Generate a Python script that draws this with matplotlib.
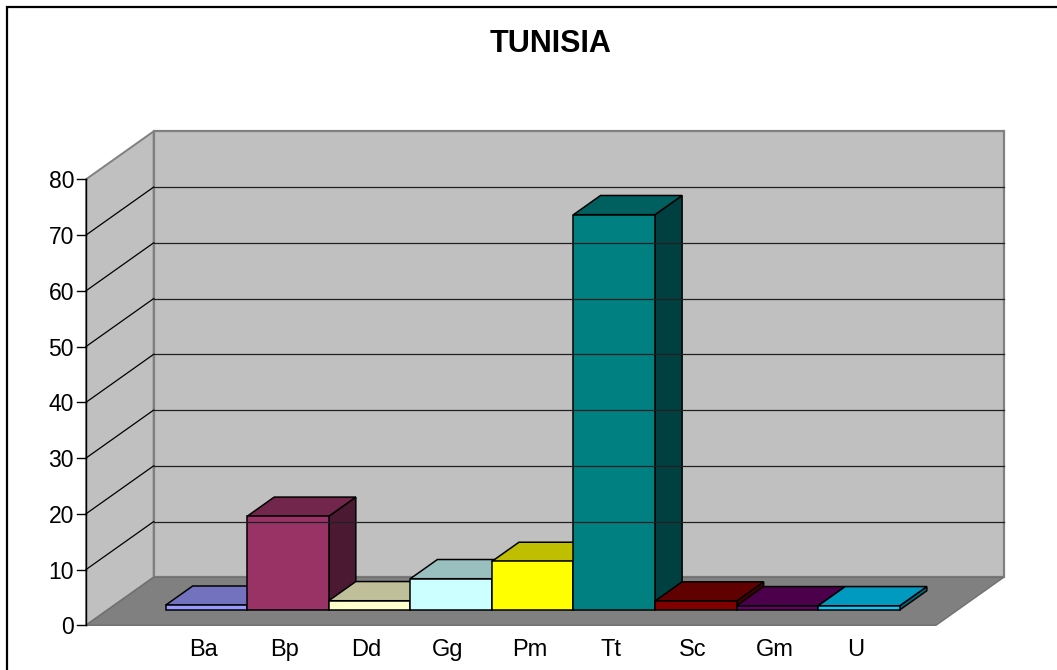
import numpy as np
import matplotlib.pyplot as plt
from matplotlib.patches import Polygon

plt.rcParams['font.family'] = ['Liberation Sans', 'DejaVu Sans']

# data
categories = ["Ba", "Bp", "Dd", "Gg", "Pm", "Tt", "Sc", "Gm", "U"]
values = [0.85, 16.8, 1.65, 5.6, 8.7, 70.9, 1.6, 0.75, 0.75]
front_colors = ["#9999ff", "#993366", "#ffffcc", "#ccffff", "#ffff00",
                "#008080", "#800000", "#660066", "#00ccff"]
yticks = [0, 10, 20, 30, 40, 50, 60, 70, 80]
title = "TUNISIA"

# oblique 3D layout (pixels of the 1057x670 canvas)
X0, X1 = 86.0, 936.0       # front edge of the floor
Y0 = 625.3                 # value 0 on the front plane
DX, DY = 67.7, 48.0        # shift from front to back wall
SCALE = 5.575              # pixels per unit
MARGIN = 0.71              # empty floor on each side, in bar widths
D_FRONT, D_BACK = 0.32, 0.72
VMAX = 80

n = len(categories)
bar_w = (X1 - X0) / (n + 2 * MARGIN)


def proj(x, d, v):
    return (x + d * DX, Y0 - d * DY - v * SCALE)


def shade(color, k):
    r, g, b = [int(color[i:i + 2], 16) for i in (1, 3, 5)]
    return "#%02x%02x%02x" % (int(r * k), int(g * k), int(b * k))


fig = plt.figure(figsize=(10.57, 6.70), dpi=100)
ax = fig.add_axes([0, 0, 1, 1])
ax.set_xlim(0, 1057)
ax.set_ylim(670, 0)
ax.axis("off")

# walls and floor
left_wall = [proj(X0, 0, 0), proj(X0, 0, VMAX), proj(X0, 1, VMAX), proj(X0, 1, 0)]
back_wall = [proj(X0, 1, 0), proj(X0, 1, VMAX), proj(X1, 1, VMAX), proj(X1, 1, 0)]
floor = [proj(X0, 0, 0), proj(X1, 0, 0), proj(X1, 1, 0), proj(X0, 1, 0)]
ax.add_patch(Polygon(left_wall, facecolor="#c0c0c0", edgecolor="#808080", lw=1.4))
ax.add_patch(Polygon(back_wall, facecolor="#c0c0c0", edgecolor="#808080", lw=1.6))
ax.add_patch(Polygon(floor, facecolor="#808080", edgecolor="#707070", lw=1.0))

# gridlines
for v in yticks[1:-1]:
    a, b = proj(X0, 1, v), proj(X1, 1, v)
    ax.plot([a[0], b[0]], [a[1], b[1]], color="#202020", lw=0.9)
    c = proj(X0, 0, v)
    ax.plot([c[0], a[0]], [c[1], a[1]], color="black", lw=0.9)

# value axis
a, b = proj(X0, 0, 0), proj(X0, 0, VMAX)
ax.plot([a[0], b[0]], [a[1], b[1]], color="black", lw=1.0)
for v in yticks:
    x, y = proj(X0, 0, v)
    ax.plot([x - 9, x], [y, y], color="black", lw=1.0)
    ax.text(x - 12, y, str(v), ha="right", va="center_baseline", fontsize=16.5)

# bars, left to right so each one hides the previous side
for i, (cat, val, col) in enumerate(zip(categories, values, front_colors)):
    xl = X0 + (MARGIN + i) * bar_w
    xr = xl + bar_w
    side = [proj(xr, D_FRONT, 0), proj(xr, D_BACK, 0), proj(xr, D_BACK, val), proj(xr, D_FRONT, val)]
    top = [proj(xl, D_FRONT, val), proj(xr, D_FRONT, val), proj(xr, D_BACK, val), proj(xl, D_BACK, val)]
    front = [proj(xl, D_FRONT, 0), proj(xr, D_FRONT, 0), proj(xr, D_FRONT, val), proj(xl, D_FRONT, val)]
    ax.add_patch(Polygon(side, facecolor=shade(col, 0.5), edgecolor="black", lw=1.1, joinstyle="miter"))
    ax.add_patch(Polygon(top, facecolor=shade(col, 0.75), edgecolor="black", lw=1.1, joinstyle="miter"))
    ax.add_patch(Polygon(front, facecolor=col, edgecolor="black", lw=1.1, joinstyle="miter"))

    lx, _ = proj((xl + xr) / 2, D_FRONT, 0)
    ax.text(lx - 3, 656, cat, ha="center", va="baseline", fontsize=17)

ax.text(551, 44, title, ha="center", va="center", fontsize=22, fontweight="bold")

# chart frame (only top and left edges fall inside the picture)
ax.plot([7, 7, 1057], [670, 7, 7], color="black", lw=1.6, solid_joinstyle="miter")

fig.savefig("out.png", dpi=100)
